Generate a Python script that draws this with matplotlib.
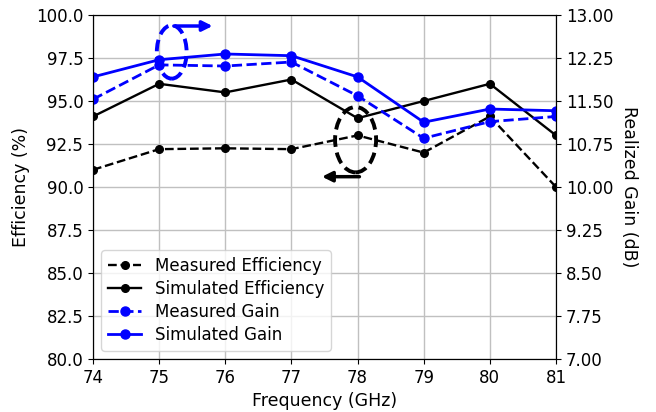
import matplotlib
matplotlib.use("Agg")
import matplotlib.pyplot as plt
from matplotlib.patches import Ellipse

freq = [74, 75, 76, 77, 78, 79, 80, 81]
meas_eff = [91.0, 92.2, 92.25, 92.2, 93.0, 92.0, 94.1, 90.0]
sim_eff = [94.1, 96.0, 95.5, 96.25, 94.0, 95.0, 96.0, 93.0]
meas_gain = [11.53, 12.13, 12.11, 12.18, 11.59, 10.85, 11.14, 11.23]
sim_gain = [11.92, 12.22, 12.32, 12.29, 11.92, 11.13, 11.36, 11.33]

eff_ticks = [80.0, 82.5, 85.0, 87.5, 90.0, 92.5, 95.0, 97.5, 100.0]
gain_ticks = [7.00, 7.75, 8.50, 9.25, 10.00, 10.75, 11.50, 12.25, 13.00]

fs_tick = 12
fs_lab = 12.5
fig = plt.figure(figsize=(6.56, 4.12), dpi=100)
ax = fig.add_axes([93/656, 1-359/412, (556-93)/656, (359-15)/412])
ax2 = ax.twinx()

l1, = ax.plot(freq, meas_eff, 'k--o', lw=1.7, ms=5.5, label='Measured Efficiency')
l2, = ax.plot(freq, sim_eff, 'k-o', lw=1.7, ms=5.5, label='Simulated Efficiency')
l3, = ax2.plot(freq, meas_gain, '--o', color='blue', lw=2.0, ms=6.5, label='Measured Gain')
l4, = ax2.plot(freq, sim_gain, '-o', color='blue', lw=2.0, ms=6.5, label='Simulated Gain')

ax.set_xlim(74, 81)
ax.set_ylim(80, 100)
ax2.set_ylim(7, 13)
ax.set_yticks(eff_ticks)
ax.set_yticklabels([f"{t:.1f}" for t in eff_ticks], fontsize=fs_tick)
ax2.set_yticks(gain_ticks)
ax2.set_yticklabels([f"{t:.2f}" for t in gain_ticks], fontsize=fs_tick)
ax.set_xticks(freq)
ax.set_xticklabels([str(f) for f in freq], fontsize=fs_tick)
ax.grid(True, color='#c0c0c0', lw=1.0)
ax.set_xlabel('Frequency (GHz)', fontsize=fs_lab)
ax.set_ylabel('Efficiency (%)', fontsize=fs_lab)
ax2.set_ylabel('Realized Gain (dB)', fontsize=fs_lab, rotation=270, labelpad=18)

# annotations (in efficiency axis data coords)
e1 = Ellipse((75.19, 97.85), 0.45, 3.1, fill=False, ec='blue', lw=2.8, ls=(0, (3, 1.5)), zorder=5)
ax.add_patch(e1)
ax.annotate('', xy=(75.85, 99.36), xytext=(75.18, 99.36),
            arrowprops=dict(arrowstyle='-|>', color='blue', lw=2.5, mutation_scale=15), zorder=6)
e2 = Ellipse((77.97, 92.75), 0.62, 3.8, fill=False, ec='black', lw=2.8, ls=(0, (3, 1.5)), zorder=5)
ax.add_patch(e2)
ax.annotate('', xy=(77.42, 90.6), xytext=(78.07, 90.6),
            arrowprops=dict(arrowstyle='-|>', color='black', lw=2.5, mutation_scale=15), zorder=6)

ax.legend(handles=[l1, l2, l3, l4], loc='lower left', fontsize=12, framealpha=0.8,
          borderaxespad=0.5, handletextpad=0.8, labelspacing=0.3)

fig.savefig('out.png', dpi=100)
